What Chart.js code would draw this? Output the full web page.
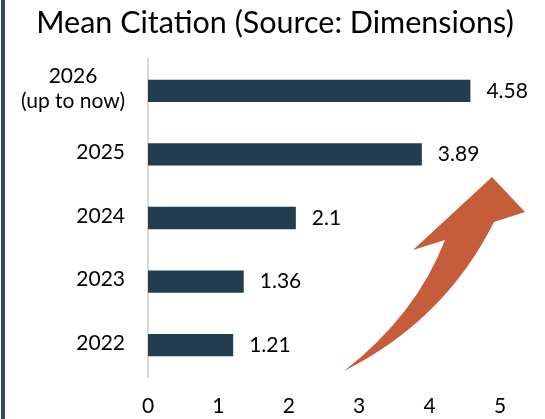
<!DOCTYPE html>
<html>
<head>
<meta charset="utf-8">
<script src="https://cdn.jsdelivr.net/npm/chart.js@4"></script>
<style>
  html, body { margin: 0; padding: 0; background: #fff; }
  #wrap { width: 545px; height: 419px; position: relative; }
</style>
</head>
<body>
<div id="wrap"><canvas id="myChart"></canvas></div>
<script>
// data
const years = [["2026", "(up to now)"], "2025", "2024", "2023", "2022"]
const meanCitation = [4.58, 3.89, 2.1, 1.36, 1.21]
const xTicks = [0, 1, 2, 3, 4, 5]
const chartTitle = 'Mean Citation (Source: Dimensions)'

const FONT = "Lato, 'Open Sans', sans-serif"
const BAR = '#223D4F'

// left side stripe, title, orange arrow, value labels, y labels
const decor = {
    id: 'decor',
    beforeDraw(chart) {
        const c = chart.ctx
        c.save()
        c.fillStyle = '#fff'
        c.fillRect(0, 0, chart.width, chart.height)
        c.fillStyle = '#2E4A5E'
        c.fillRect(1, 0, 4, chart.height)
        c.fillStyle = '#000'
        c.font = '30.5px ' + FONT
        c.textAlign = 'center'
        c.textBaseline = 'middle'
        c.fillText(chartTitle, 275, 23)
        c.restore()
    },
    afterDatasetsDraw(chart) {
        const c = chart.ctx
        const yScale = chart.scales.y
        c.save()
        c.font = '21px ' + FONT
        c.fillStyle = '#000'
        c.textBaseline = 'middle'

        // value labels
        chart.getDatasetMeta(0).data.forEach(function (bar, i) {
            c.textAlign = 'left'
            c.fillText(String(meanCitation[i]), bar.x + 16, bar.y)
        })

        // category labels (block right aligned, lines centred)
        years.forEach(function (lab, i) {
            const lines = Array.isArray(lab) ? lab : [lab]
            const w = Math.max.apply(null, lines.map(l => c.measureText(l).width))
            const cx = yScale.right - 23 - w / 2
            const cy = yScale.getPixelForValue(i)
            const lh = 25
            c.textAlign = 'center'
            lines.forEach(function (l, k) {
                c.fillText(l, cx, cy - 2 + (k - (lines.length - 1) / 2) * lh)
            })
        })

        // the arrow
        c.fillStyle = '#C65D3A'
        c.beginPath()
        c.moveTo(344, 371)
        c.quadraticCurveTo(445, 320, 494, 222)
        c.lineTo(525, 212)
        c.lineTo(492, 177)
        c.lineTo(413, 250)
        c.lineTo(445, 240)
        c.quadraticCurveTo(416, 315, 344, 371)
        c.closePath()
        c.fill()
        c.restore()
    }
}

var ctx = document.getElementById('myChart').getContext('2d')
var chart = new Chart(ctx, {
    type: 'bar',
    data: {
        labels: years,
        datasets: [{
            label: 'Mean Citation',
            data: meanCitation,
            backgroundColor: BAR,
            borderWidth: 0,
            barPercentage: 0.7,
            categoryPercentage: 0.5
        }]
    },
    options: {
        indexAxis: 'y',
        responsive: true,
        maintainAspectRatio: false,
        animation: false,
        layout: { padding: { left: 0, right: 45, top: 59, bottom: 0 } },
        plugins: {
            legend: { display: false },
            tooltip: { enabled: false },
            title: { display: false }
        },
        scales: {
            x: {
                min: 0,
                max: 5,
                afterBuildTicks: function (s) { s.ticks = xTicks.map(v => ({ value: v })) },
                grid: { display: false, drawTicks: false },
                border: { display: false },
                ticks: {
                    color: '#000',
                    padding: 17,
                    font: { family: FONT, size: 21 },
                    maxRotation: 0
                },
                afterFit: function (s) { s.height = 42 }
            },
            y: {
                grid: { display: false, drawTicks: false },
                border: { display: true, color: '#D9D9D9', width: 2 },
                ticks: { display: false },
                afterFit: function (s) { s.width = 148 }
            }
        }
    },
    plugins: [decor]
})
</script>
</body>
</html>
